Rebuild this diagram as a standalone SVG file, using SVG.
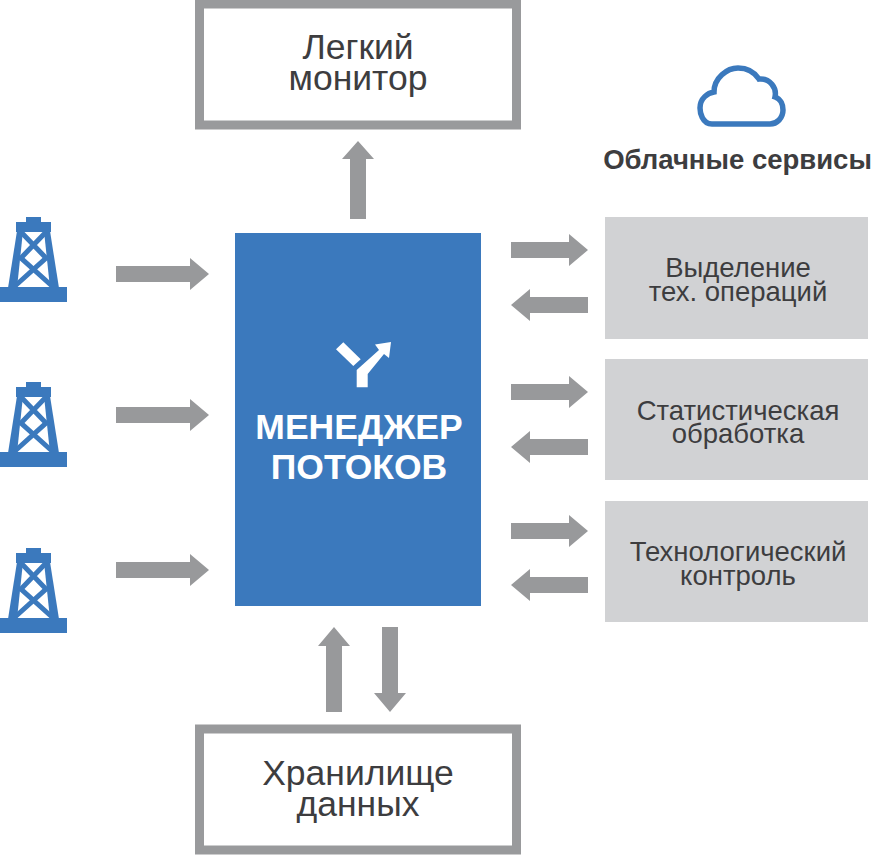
<svg xmlns="http://www.w3.org/2000/svg" xmlns:xlink="http://www.w3.org/1999/xlink" width="871" height="855" viewBox="0 0 871 855">
<style>
text{font-family:"Liberation Sans",Arial,sans-serif;fill:#3d3d3f;text-anchor:middle}
.big{font-size:35.500px}
.svc{font-size:27.500px}
.frame{fill:#fff;stroke:#999a9c;stroke-width:9}
.box{fill:#d1d2d4}
.arrow{fill:#98999b}
.blue{fill:#3b79bd}
.leg{stroke:#3b79bd;fill:none;stroke-width:5}
.bold{font-size:35.500px;font-weight:bold;fill:#fff}
</style>
<defs>
<polygon id="ar" points="0,-8 58,-8 58,-16 77,0 58,16 58,8 0,8"/>
<polygon id="arl" points="0,-8 74,-8 74,-16 93,0 74,16 74,8 0,8"/>
<polygon id="arv" points="0,-8 60,-8 60,-16 78,0 60,16 60,8 0,8"/>
<polygon id="arv2" points="0,-8 66,-8 66,-16 85,0 66,16 66,8 0,8"/>
<g id="tw">
<rect class="blue" x="26" y="217" width="15" height="7"/>
<rect class="blue" x="16" y="222" width="35" height="10"/>
<rect class="blue" x="0" y="287" width="67" height="15"/>
<polygon class="blue" points="17,231 23,231 17,288 8,288"/>
<polygon class="blue" points="44,231 50,231 59,288 50,288"/>
<path class="leg" d="M21 232 L46 258 L15 286 M46 232 L21 258 L52 286"/>
</g>
</defs>
<g id="connectors" class="arrow">
<use xlink:href="#arv" href="#arv" transform="translate(358,219) rotate(-90)"/>
<use xlink:href="#arl" href="#arl" transform="translate(116,274)"/>
<use xlink:href="#arl" href="#arl" transform="translate(116,415)"/>
<use xlink:href="#arl" href="#arl" transform="translate(116,570)"/>
<use xlink:href="#ar" href="#ar" transform="translate(511,250)"/>
<use xlink:href="#ar" href="#ar" transform="translate(588,305) rotate(180)"/>
<use xlink:href="#ar" href="#ar" transform="translate(511,392)"/>
<use xlink:href="#ar" href="#ar" transform="translate(588,447) rotate(180)"/>
<use xlink:href="#ar" href="#ar" transform="translate(511,531)"/>
<use xlink:href="#ar" href="#ar" transform="translate(588,585) rotate(180)"/>
<use xlink:href="#arv2" href="#arv2" transform="translate(334,712) rotate(-90)"/>
<use xlink:href="#arv2" href="#arv2" transform="translate(390,627) rotate(90)"/>
</g>
<g id="monitor"><rect class="frame" x="199.500" y="4" width="317" height="121"/>
<text class="big" x="358" y="59">Легкий</text><text class="big" x="358" y="90">монитор</text></g>
<g id="storage"><rect class="frame" x="199.500" y="729" width="317" height="121"/>
<text class="big" x="358" y="785">Хранилище</text><text class="big" x="358" y="816">данных</text></g>
<g id="manager"><rect class="blue" x="235" y="233" width="246" height="373"/>
<path fill="#fff" d="M336 349.300 L343.300 342.300 L360.700 359.300 L353.300 366 Z M356.700 387.300 L356.700 370 L379 350 L375 344.500 L391 342 L389 358 L384 354 L367.700 374 L367.700 387.300 Z"/>
<text class="bold" x="359" y="439">МЕНЕДЖЕР</text>
<text class="bold" x="359" y="479">ПОТОКОВ</text></g>
<g id="well1"><use xlink:href="#tw" href="#tw"/></g>
<g id="well2"><use xlink:href="#tw" href="#tw" y="165"/></g>
<g id="well3"><use xlink:href="#tw" href="#tw" y="331"/></g>
<g id="cloud"><path fill="#fff" stroke="#3b79bd" stroke-width="5.500" d="M712 124 C702 124 700 112 700 108 C700 98 708 93 714 92 C714 78 727 68 738 68 C748 68 755 73 759 79 C770 78 777 88 775 97 C781 99 783 105 783 110 C783 118 777 124 770 124 Z"/></g>
<text x="737.500" y="169" style="font-size:27.500px;font-weight:bold">Облачные сервисы</text>
<g id="svc1"><rect class="box" x="605" y="217" width="263" height="122"/>
<text class="svc" x="738" y="277">Выделение</text><text class="svc" x="738" y="301">тех. операций</text></g>
<g id="svc2"><rect class="box" x="605" y="359" width="263" height="121"/>
<text class="svc" x="738" y="420">Статистическая</text><text class="svc" x="738" y="443">обработка</text></g>
<g id="svc3"><rect class="box" x="605" y="501" width="263" height="121"/>
<text class="svc" x="738" y="561">Технологический</text><text class="svc" x="738" y="585">контроль</text></g>
</svg>
